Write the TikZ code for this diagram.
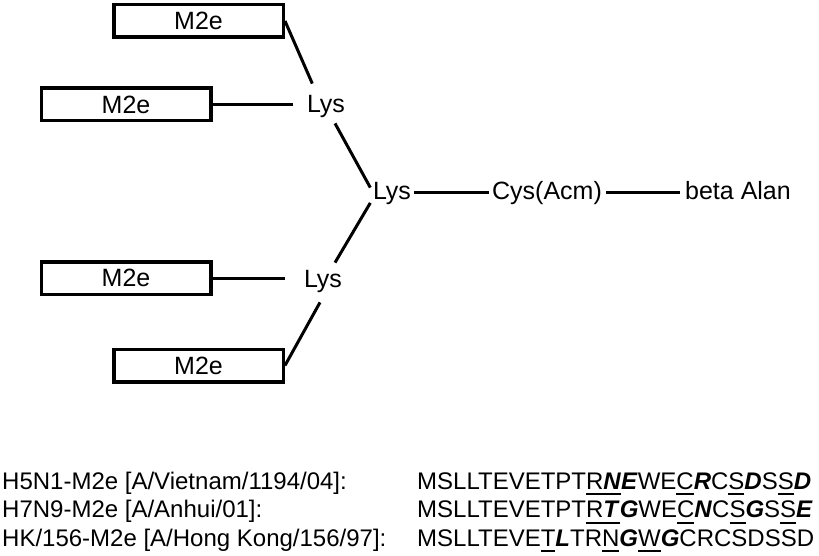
\documentclass[tikz,border=0pt]{standalone}
\usepackage{fontspec}
\setmainfont{Liberation Sans}
\usetikzlibrary{calc}
\newcommand\fsd{\fontsize{25}{30}\selectfont}
\newcommand\fss{\fontsize{24}{29}\selectfont}
\newcommand\ulr[1]{\setbox0\hbox{#1}\rlap{\rule[-6pt]{\wd0}{2pt}}\box0}
\newcommand\bi[1]{\textbf{\textit{#1}}}
\begin{document}
\begin{tikzpicture}[x=1pt,y=-1pt,
  mbox/.style={draw, line width=3.5pt, minimum width=169.5pt, minimum height=32.5pt, inner sep=0pt, font=\fsd},
  lbl/.style={inner sep=0pt, anchor=base, font=\fsd},
  seq/.style={inner sep=0pt, anchor=base west, font=\fss},
  conn/.style={line width=3pt}]
\useasboundingbox (0,0) rectangle (819,556);
% boxes
\node[mbox] (b1) at (198.5,21) {M2e};
\node[mbox] (b2) at (126,104.5) {M2e};
\node[mbox] (b3) at (126,278) {M2e};
\node[mbox] (b4) at (198.5,365.5) {M2e};
% labels
\node[lbl] (l1) at (326,113) {Lys};
\node[lbl] (l2) at (392,199.5) {Lys};
\node[lbl] (l3) at (323,287) {Lys};
\node[lbl] (cys) at (547,199.5) {Cys(Acm)};
\node[lbl] (beta) at (738,199.5) {beta Alan};
% connectors
\draw[conn] (b1.east) -- ($(l1.north west)+(5.5,-12)$);
\draw[conn] (b2.east) -- ($(b2.east -| l1.west)+(-13.5,0)$);
\draw[conn] ($(l1.south)+(9,5)$) -- ($(l2.north west)+(-2.5,5.5)$);
\draw[conn] ($(l2.south west)+(-2.5,-2)$) -- ($(l3.north)+(12,-7)$);
\draw[conn] (b3.east) -- ($(b3.east -| l3.west)+(-18.5,0)$);
\draw[conn] (b4.east) -- ($(l3.south)+(-3,10)$);
\draw[conn] ($(l2.base east)+(3,-7)$) -- ($(cys.base west)+(-3,-7)$);
\draw[conn] ($(cys.base east)+(4,-7)$) -- ($(beta.base west)+(-5,-7)$);
% sequences
\node[seq] (n1) at (2,489) {H5N1-M2e [A/Vietnam/1194/04]:};
\node[seq] (n2) at (2,517.5) {H7N9-M2e [A/Anhui/01]:};
\node[seq] (n3) at (2,546) {HK/156-M2e [A/Hong Kong/156/97]:};
\node[seq] (s1) at (417,489) {MSLLTEVETPT\ulr{R}\ulr{\bi{N}}\bi{E}WE\ulr{C}\bi{R}C\ulr{S}\bi{D}S\ulr{S}\bi{D}};
\node[seq] (s2) at (417,517.5) {MSLLTEVETPT\ulr{R}\ulr{\bi{T}}\bi{G}WE\ulr{C}\bi{N}C\ulr{S}\bi{G}S\ulr{S}\bi{E}};
\node[seq] (s3) at (417,546) {MSLLTEVE\ulr{T}\bi{L}TR\ulr{N}\bi{G}\ulr{W}\bi{G}CRCSDSSD};
\end{tikzpicture}
\end{document}
